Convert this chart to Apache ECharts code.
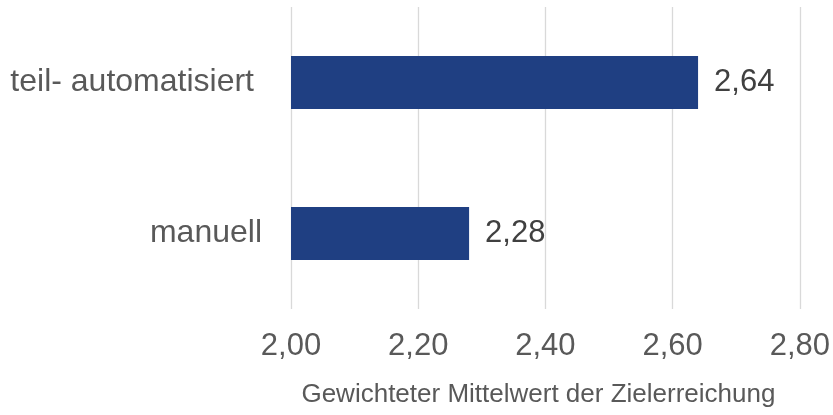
<!DOCTYPE html>
<html>
<head>
<meta charset="utf-8">
<script src="https://cdn.jsdelivr.net/npm/echarts@6/dist/echarts.min.js"></script>
<style>
  html, body { margin: 0; padding: 0; background: #fff; }
  #chart { width: 833px; height: 415px; }
</style>
</head>
<body>
<div id="chart"></div>
<script>
// categories (bottom to top)
var categories = ['manuell', 'teil- automatisiert'];
// weighted mean values
var values = [2.28, 2.64];
// axis range
var axisMin = 2.0;
var axisMax = 2.8;
var axisStep = 0.2;

function fmt(v) {
  return v.toFixed(2).replace('.', ',');
}

var chart = echarts.init(document.getElementById('chart'));

chart.setOption({
  animation: false,
  textStyle: { fontFamily: 'Liberation Sans, Arial, sans-serif' },
  grid: { left: 291, right: 32, top: 7, bottom: 106, containLabel: false },
  xAxis: {
    type: 'value',
    min: axisMin,
    max: axisMax,
    interval: axisStep,
    name: 'Gewichteter Mittelwert der Zielerreichung',
    nameLocation: 'middle',
    nameGap: 73,
    nameTextStyle: { fontSize: 26, color: '#595959', padding: [0, 14, 0, 0] },
    axisLine: { show: false },
    axisTick: { show: false },
    axisLabel: {
      fontSize: 31,
      color: '#595959',
      margin: 22,
      formatter: function (v) { return fmt(v); }
    },
    splitLine: { lineStyle: { color: '#d9d9d9', width: 1.3 } }
  },
  yAxis: {
    type: 'category',
    data: categories,
    axisLine: { show: false },
    axisTick: { show: false },
    axisLabel: {
      fontSize: 32,
      color: '#595959',
      margin: 29,
      formatter: function (v) {
        return v === 'manuell' ? v : '{wide|' + v + '}';
      },
      rich: { wide: { fontSize: 32, color: '#595959', padding: [0, 8, 0, 0] } }
    }
  },
  series: [{
    type: 'bar',
    data: values,
    barWidth: 53,
    itemStyle: { color: '#1f3f82' },
    label: {
      show: true,
      position: 'right',
      distance: 16,
      fontSize: 31,
      color: '#404040',
      formatter: function (p) { return fmt(p.value); }
    }
  }]
});
</script>
</body>
</html>
